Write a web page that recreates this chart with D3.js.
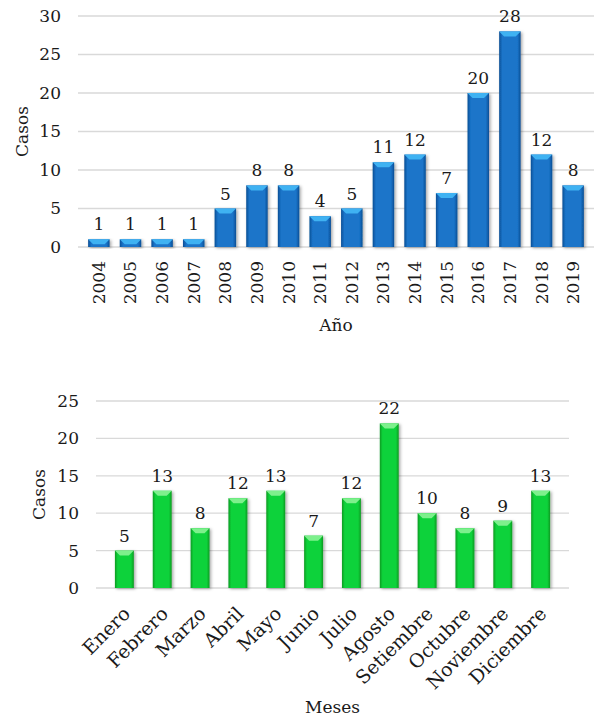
<!DOCTYPE html>
<html>
<head>
<meta charset="utf-8">
<script src="https://cdn.jsdelivr.net/npm/d3@7"></script>
<style>
body { margin: 0; background: #fff; }
text { font-family: "DejaVu Serif", serif; fill: #1a1a1a; }
</style>
</head>
<body>
<div id="chart"></div>
<script>
// data
const years = ['2004','2005','2006','2007','2008','2009','2010','2011','2012','2013','2014','2015','2016','2017','2018','2019'];
const yearCases = [1,1,1,1,5,8,8,4,5,11,12,7,20,28,12,8];
const yearTicks = [0,5,10,15,20,25,30];

const months = ['Enero','Febrero','Marzo','Abril','Mayo','Junio','Julio','Agosto','Setiembre','Octubre','Noviembre','Diciembre'];
const monthCases = [5,13,8,12,13,7,12,22,10,8,9,13];
const monthTicks = [0,5,10,15,20,25];

const W = 596, H = 717;
const svg = d3.select('#chart').append('svg')
	.attr('width', W)
	.attr('height', H);

const defs = svg.append('defs');
//gradient for each colour: dark sides, bright middle
function addGrad(id, dark, mid) {
	const g = defs.append('linearGradient').attr('id', id)
		.attr('x1', 0).attr('x2', 1).attr('y1', 0).attr('y2', 0);
	g.append('stop').attr('offset', '0%').attr('stop-color', dark);
	g.append('stop').attr('offset', '15%').attr('stop-color', mid);
	g.append('stop').attr('offset', '85%').attr('stop-color', mid);
	g.append('stop').attr('offset', '100%').attr('stop-color', dark);
}
addGrad('gBlue', '#0b4f95', '#1a74c9');
addGrad('gGreen', '#0a9a22', '#11d23a');
const sh = defs.append('filter').attr('id', 'shadow')
	.attr('x', '-30%').attr('y', '-10%').attr('width', '160%').attr('height', '130%');
sh.append('feDropShadow').attr('dx', 1.5).attr('dy', 1).attr('stdDeviation', 1.5)
	.attr('flood-color', '#000').attr('flood-opacity', 0.35);

function barChart(opts) {
	const {cats, vals, ticks, left, right, top0, bottom, maxV, pad, grad, cap, rotate, xTitle, xTitleY, yTitleX} = opts;
	const x = d3.scaleBand().domain(cats).range([left, right]).padding(pad);
	const y = d3.scaleLinear().domain([0, maxV]).range([bottom, top0]);
	const g = svg.append('g');

	//grid lines
	g.selectAll('.grid').data(ticks).join('line')
		.attr('x1', left).attr('x2', right)
		.attr('y1', d => y(d)).attr('y2', d => y(d))
		.attr('stroke', '#d9d9d9').attr('stroke-width', 1.3);

	//y axis labels
	const yAxis = d3.axisLeft(y).tickValues(ticks).tickSize(0).tickPadding(0);
	g.append('g').attr('transform', `translate(${left - 17},0)`).call(yAxis)
		.call(a => a.select('.domain').remove())
		.selectAll('text').style('font-size', '17px').attr('font-family', null);

	//bars
	const bars = g.selectAll('.bar').data(vals).join('g');
	bars.append('rect')
		.attr('x', (d, i) => x(cats[i]))
		.attr('y', d => y(d))
		.attr('width', x.bandwidth())
		.attr('height', d => bottom - y(d))
		.attr('fill', `url(#${grad})`)
		.attr('filter', 'url(#shadow)');
	//bevel cap on top
	bars.append('path')
		.attr('d', (d, i) => {
			const x0 = x(cats[i]), bw = x.bandwidth(), t = y(d);
			const hgt = Math.min(5, bottom - t);
			return `M${x0},${t}L${x0 + bw},${t}L${x0 + bw - 5},${t + hgt}L${x0 + 5},${t + hgt}Z`;
		})
		.attr('fill', cap);

	//value labels
	g.selectAll('.val').data(vals).join('text')
		.attr('x', (d, i) => x(cats[i]) + x.bandwidth() / 2)
		.attr('y', d => y(d) - 9)
		.attr('text-anchor', 'middle')
		.style('font-size', '17px')
		.text(d => d);

	//category labels
	if (rotate === -90) {
		g.selectAll('.cat').data(cats).join('text')
			.attr('transform', d => `translate(${x(d) + x.bandwidth() / 2 + 6},${bottom + 14}) rotate(-90)`)
			.attr('text-anchor', 'end')
			.style('font-size', '17px')
			.text(d => d);
	} else {
		g.selectAll('.cat').data(cats).join('text')
			.attr('transform', d => `translate(${x(d) + x.bandwidth() / 2 + 7},${bottom + 27}) rotate(-45)`)
			.attr('text-anchor', 'end')
			.style('font-size', '19px')
			.text(d => d);
	}

	//titles
	g.append('text')
		.attr('x', (left + right) / 2).attr('y', xTitleY)
		.attr('text-anchor', 'middle').style('font-size', '17px')
		.text(xTitle);
	g.append('text')
		.attr('transform', `translate(${yTitleX},${(top0 + bottom) / 2}) rotate(-90)`)
		.attr('text-anchor', 'middle').style('font-size', '17px')
		.text('Casos');
}

barChart({
	cats: years, vals: yearCases, ticks: yearTicks,
	left: 78, right: 594, top0: 16, bottom: 247, maxV: 30, pad: 0.32,
	grad: 'gBlue', cap: '#3fb2f2', rotate: -90,
	xTitle: 'Año', xTitleY: 331, yTitleX: 28
});

barChart({
	cats: months, vals: monthCases, ticks: monthTicks,
	left: 96, right: 569, top0: 401, bottom: 588, maxV: 25, pad: 0.5,
	grad: 'gGreen', cap: '#7df08c', rotate: -45,
	xTitle: 'Meses', xTitleY: 713, yTitleX: 45
});
</script>
</body>
</html>
